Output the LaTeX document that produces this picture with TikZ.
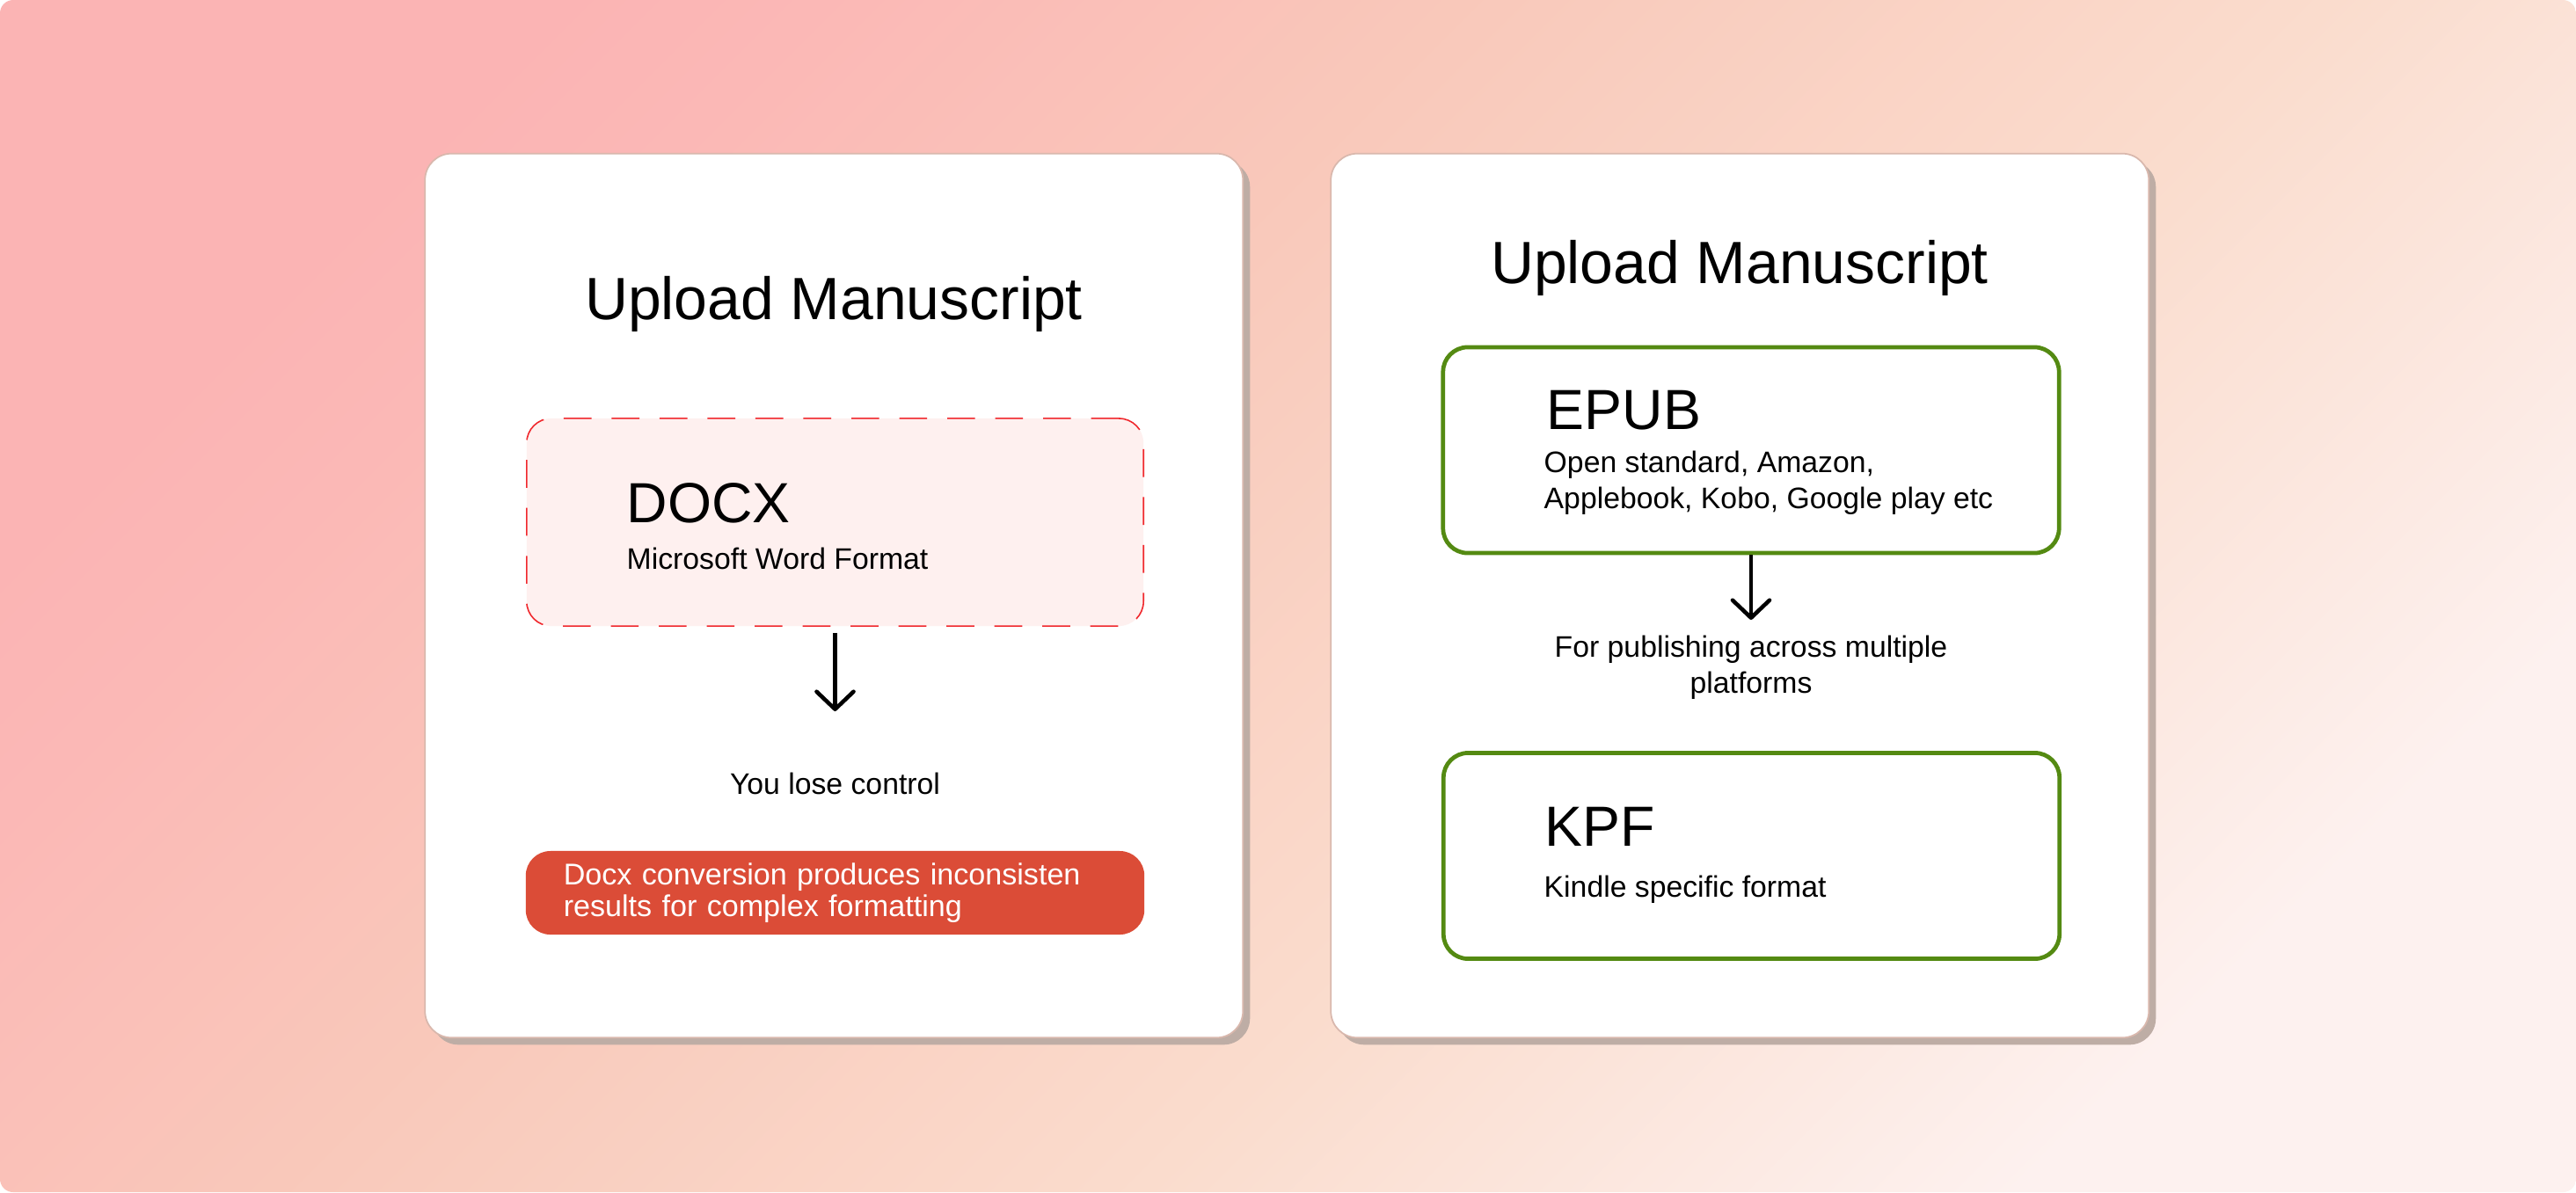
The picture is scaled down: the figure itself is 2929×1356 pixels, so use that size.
\documentclass[tikz,border=0pt]{standalone}
\usepackage{fontspec}
\setmainfont{Liberation Sans}
\usetikzlibrary{arrows.meta,shadows}
\definecolor{bgA}{RGB}{251,180,180}
\definecolor{bgA2}{RGB}{251,184,182}
\definecolor{bgB}{RGB}{249,200,186}
\definecolor{bgB2}{RGB}{250,220,205}
\definecolor{bgC}{RGB}{253,241,239}
\definecolor{docxfill}{RGB}{254,240,239}
\definecolor{dashred}{RGB}{240,40,45}
\definecolor{warnred}{RGB}{219,76,55}
\definecolor{okgreen}{RGB}{84,138,18}
\definecolor{shadowc}{RGB}{190,173,165}
\definecolor{edgec}{RGB}{217,184,173}
\pgfdeclarehorizontalshading{bgshade}{100bp}{color(0bp)=(bgA); color(25bp)=(bgA); color(30bp)=(bgA2); color(42bp)=(bgB); color(58.5bp)=(bgB2); color(75bp)=(bgC); color(100bp)=(bgC)}
\tikzset{
  card/.style={fill=white, draw=edgec, line width=0.5pt, rounded corners=0.3cm,
    minimum width=9.295cm, minimum height=10.05cm, inner sep=0pt,
    general shadow={fill=shadowc, shadow xshift=0.08cm, shadow yshift=-0.08cm}},
  title/.style={font=\fontsize{19.3pt}{23pt}\selectfont, inner sep=0pt, anchor=base},
  bigfmt/.style={font=\fontsize{18.3pt}{22pt}\selectfont, inner sep=0pt, anchor=base west},
  small/.style={font=\fontsize{9.6pt}{11.4pt}\selectfont, inner sep=0pt},
  dashbox/.style={draw=dashred, fill=docxfill, line width=0.45pt, dash pattern=on 9pt off 6.5pt,
    rounded corners=0.28cm, minimum width=7.01cm, minimum height=2.36cm, inner sep=0pt},
  greenbox/.style={draw=okgreen, fill=white, line width=1.35pt, rounded corners=0.28cm,
    minimum width=7.0cm, minimum height=2.34cm, inner sep=0pt},
  warnbox/.style={fill=warnred, text=white, rounded corners=0.28cm, text width=6.17cm,
    align=left, inner xsep=0.43cm, minimum height=0.95cm,
    font=\fontsize{9.7pt}{8.8pt}\selectfont},
  arr/.style={line width=1.3pt, -{Straight Barb[length=0.2cm,width=0.42cm,round]}}
}
\begin{document}
\begin{tikzpicture}[x=0.01cm, y=-0.01cm]
\useasboundingbox (0,0) rectangle (2929,1356);
\fill[white] (0,0) rectangle (2929,1356);
\path[shading=bgshade, shading angle=-45, rounded corners=0.15cm] (0,0) rectangle (2929,1356);

% cards
\node[card] (cardL) at (948.25,677.5) {};
\node[card] (cardR) at (1978.25,677.5) {};

% left card
\node[title] (titleL) at (948,363) {Upload Manuscript};
\node[dashbox] (docx) at (949.5,594) {};
\node[bigfmt] (docxname) at (712,594) {DOCX};
\node[small, anchor=base west] (docxdesc) at (712,647) {Microsoft Word Format};
\coordinate (tipL) at (949.5,809);
\draw[arr] ([yshift=-0.07cm]docx.south) -- (tipL);
\node[small, anchor=base] (lose) at (949.5,903) {You lose control};
\node[warnbox] (warn) at (949.5,1015.5) {Docx conversion produces inconsisten\\results for complex formatting};

% right card
\node[title] (titleR) at (1978,322) {Upload Manuscript};
\node[greenbox] (epub) at (1991,512) {};
\node[bigfmt] (epubname) at (1758,488) {EPUB};
\node[small, anchor=base west, align=left] (epubdesc) at (1755,578) {Open standard, Amazon,\\Applebook, Kobo, Google play etc};
\coordinate (tipR) at (1991,705);
\draw[arr] (epub.south) -- (tipR);
\node[small, anchor=base, align=center] (pub) at (1991,788) {For publishing across multiple\\platforms};
\node[greenbox] (kpf) at (1991.5,973.5) {};
\node[bigfmt] (kpfname) at (1756,962) {KPF};
\node[small, anchor=base west] (kpfdesc) at (1755,1020) {Kindle specific format};
\end{tikzpicture}
\end{document}
